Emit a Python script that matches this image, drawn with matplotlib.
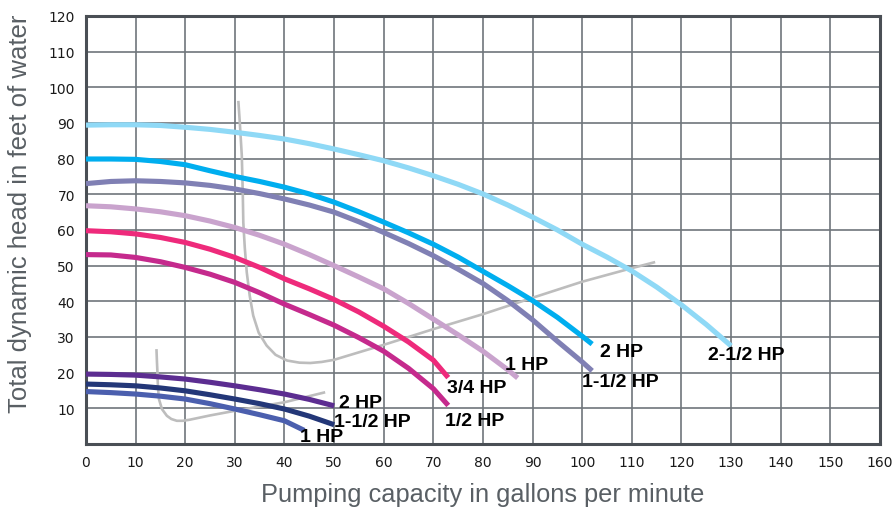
import numpy as np
import matplotlib
matplotlib.use("Agg")
import matplotlib.pyplot as plt

# upper pump family (head in feet vs gpm)
x_25hp = [0, 5, 10, 15, 20, 25, 30, 35, 40, 45, 50, 55, 60, 65, 70, 75, 80, 85, 90, 95,
          100, 105, 110, 115, 120, 125, 130]
y_25hp = [89.4, 89.5, 89.5, 89.3, 88.8, 88.2, 87.4, 86.5, 85.5, 84.2, 82.7, 81.1, 79.4,
          77.4, 75.2, 72.8, 70.1, 67.0, 63.6, 60.0, 56.0, 52.4, 48.5, 44.0, 39.0, 33.5, 27.5]

x_2hp = [0, 5, 10, 15, 20, 25, 30, 35, 40, 45, 50, 55, 60, 65, 70, 75, 80, 85, 90, 95,
         100, 102]
y_2hp = [79.9, 79.9, 79.8, 79.2, 78.3, 76.6, 75.0, 73.6, 72.0, 70.1, 67.8, 65.1, 62.2,
         59.2, 56.0, 52.4, 48.4, 44.4, 40.2, 35.5, 30.2, 28.0]

x_15hp = [0, 5, 10, 15, 20, 25, 30, 35, 40, 45, 50, 55, 60, 65, 70, 75, 80, 85, 90, 95,
          100, 102]
y_15hp = [73.0, 73.6, 73.8, 73.6, 73.2, 72.5, 71.5, 70.2, 68.7, 67.0, 65.0, 62.3, 59.3,
          56.2, 52.8, 49.0, 45.0, 40.2, 34.8, 28.8, 23.0, 20.5]

x_1hp = [0, 5, 10, 15, 20, 25, 30, 35, 40, 45, 50, 55, 60, 65, 70, 75, 80, 85, 87]
y_1hp = [66.8, 66.5, 65.9, 65.1, 64.0, 62.5, 60.7, 58.5, 56.0, 53.1, 50.0, 46.8, 43.5,
         39.4, 35.0, 30.6, 26.0, 20.8, 18.5]

x_34hp = [0, 5, 10, 15, 20, 25, 30, 35, 40, 45, 50, 55, 60, 65, 70, 73]
y_34hp = [59.8, 59.5, 58.9, 57.9, 56.5, 54.6, 52.3, 49.5, 46.3, 43.5, 40.5, 37.0, 33.0,
          28.6, 23.5, 18.6]

x_12hp = [0, 5, 10, 15, 20, 25, 30, 35, 40, 45, 50, 55, 60, 65, 70, 73]
y_12hp = [53.1, 53.0, 52.3, 51.1, 49.5, 47.6, 45.3, 42.4, 39.2, 36.3, 33.3, 29.8, 26.0,
          21.2, 15.5, 10.8]

# lower pump family
xl_2hp = [0, 5, 10, 15, 20, 25, 30, 35, 40, 45, 50]
yl_2hp = [19.6, 19.5, 19.3, 18.8, 18.2, 17.3, 16.3, 15.2, 14.0, 12.5, 10.7]
xl_15hp = [0, 5, 10, 15, 20, 25, 30, 35, 40, 45, 50]
yl_15hp = [16.8, 16.6, 16.3, 15.7, 14.9, 13.8, 12.6, 11.3, 9.8, 7.8, 5.4]
xl_1hp = [0, 5, 10, 15, 20, 25, 30, 35, 40, 44]
yl_1hp = [14.7, 14.4, 14.0, 13.4, 12.6, 11.3, 9.8, 8.2, 6.5, 3.8]

# gray boundary curves
xg1 = [30.7, 31.0, 31.4, 31.6, 31.7, 32.0, 32.4, 33.0, 33.7, 34.8, 36.4, 38.2, 40.5, 43.0,
       45.2, 47.5, 50, 60, 70, 80, 90, 100, 110, 114.7]
yg1 = [96.2, 90.0, 80.8, 70.0, 62.1, 55.0, 48.1, 41.5, 36.0, 31.2, 27.6, 25.0, 23.4, 22.8,
       22.7, 23.0, 23.6, 27.8, 32.2, 36.4, 41.0, 45.5, 49.3, 51.0]
xg2 = [14.2, 14.3, 14.4, 14.5, 14.7, 15.3, 16.3, 17.2, 18.3, 19.5, 20.9, 25, 30, 35, 40, 48.2]
yg2 = [26.6, 23.0, 20.0, 16.0, 12.6, 9.8, 7.9, 7.0, 6.5, 6.5, 6.8, 8.0, 9.3, 10.5, 11.7, 14.5]

x_ticks = list(range(0, 170, 10))
y_ticks = list(range(10, 130, 10))


def main():
    fig = plt.figure(figsize=(8.93, 5.10), dpi=100)
    ax = fig.add_axes([0.0963, 0.1275, 0.8891, 0.8392])

    ax.set_xlim(0, 160)
    ax.set_ylim(0, 120)
    ax.set_xticks(x_ticks)
    ax.set_yticks(y_ticks)
    ax.grid(True, color='#6f767b', lw=1.2, zorder=0)
    ax.tick_params(length=0, labelsize=10, colors='#1a1a1a', pad=8)
    for s in ax.spines.values():
        s.set_color('#4a4f55')
        s.set_linewidth(2.2)

    gray = '#bdbdbd'
    ax.plot(xg1, yg1, color=gray, lw=1.9, zorder=2, solid_capstyle='butt')
    ax.plot(xg2, yg2, color=gray, lw=1.9, zorder=2, solid_capstyle='butt')

    lw = 3.7
    curves = [
        (x_25hp, y_25hp, '#8fd9f6'),
        (x_2hp, y_2hp, '#00aeef'),
        (x_15hp, y_15hp, '#8080b4'),
        (x_1hp, y_1hp, '#c9a3cd'),
        (x_34hp, y_34hp, '#ee2a7b'),
        (x_12hp, y_12hp, '#c52a8d'),
        (xl_2hp, yl_2hp, '#5c2d91'),
        (xl_15hp, yl_15hp, '#233778'),
        (xl_1hp, yl_1hp, '#4b5fae'),
    ]
    for xs, ys, c in curves:
        ax.plot(xs, ys, color=c, lw=lw, zorder=3, solid_capstyle='butt',
                solid_joinstyle='round')

    lbl = dict(fontsize=14, fontweight='bold', family='Liberation Sans',
               va='center', ha='left', zorder=5)
    ax.text(51.0, 11.5, '2 HP', **lbl)
    ax.text(50.0, 6.4, '1-1/2 HP', **lbl)
    ax.text(43.1, 2.0, '1 HP', **lbl)
    ax.text(72.8, 15.7, '3/4 HP', **lbl)
    ax.text(72.4, 6.7, '1/2 HP', **lbl)
    ax.text(84.5, 22.4, '1 HP', **lbl)
    ax.text(100.0, 17.4, '1-1/2 HP', **lbl)
    ax.text(103.6, 25.8, '2 HP', **lbl)
    ax.text(125.4, 25.2, '2-1/2 HP', **lbl)

    ax.set_xlabel('Pumping capacity in gallons per minute', fontsize=18.3,
                  family='Liberation Sans', color='#595f64', labelpad=9)
    fig.text(0.022, 0.58, 'Total dynamic head in feet of water', fontsize=18.5,
             family='Liberation Sans', color='#595f64', rotation=90,
             ha='center', va='center')

    fig.savefig('out.png', dpi=100)


if __name__ == '__main__':
    main()
